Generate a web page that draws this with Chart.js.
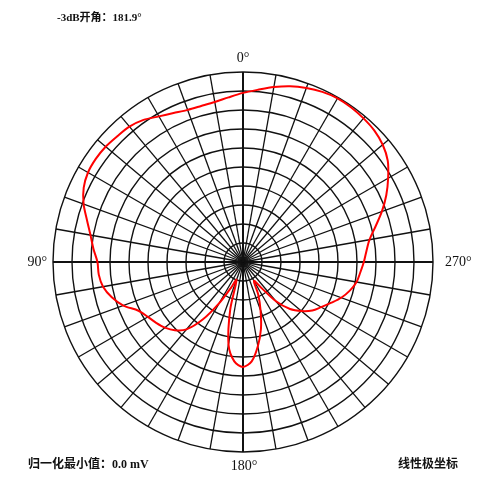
<!DOCTYPE html>
<html>
<head>
<meta charset="utf-8">
<script src="https://cdn.jsdelivr.net/npm/chart.js@4.4.0/dist/chart.umd.min.js"></script>
<style>
  html, body { margin: 0; padding: 0; background: #ffffff; }
  #wrap { position: relative; width: 500px; height: 481px; }
  canvas { display: block; }
</style>
</head>
<body>
<div id="wrap"><canvas id="c" width="500" height="481"></canvas></div>
<script>
// Angles (degrees, counter-clockwise from top: 0° top, 90° left, 180° bottom, 270° right)
const angles = [0,5,10,15,20,25,30,35,40,45,50,55,60,65,70,75,80,85,
                90,95,100,105,110,115,120,125,130,135,140,145,150,155,160,165,170,175,
                180,185,190,195,200,205,210,215,220,225,230,235,240,245,250,255,260,265,
                270,275,280,285,290,295,300,305,310,315,320,325,330,335,340,345,350,355];
// Normalized amplitude (0 .. 1)
const amplitude = [0.890,0.870,0.855,0.850,0.852,0.865,0.885,0.913,0.930,0.936,0.944,0.946,0.942,0.925,0.893,0.850,0.815,0.790,
                   0.766,0.762,0.748,0.715,0.670,0.607,0.578,0.558,0.537,0.508,0.463,0.370,0.250,0.150,0.100,0.260,0.440,0.525,
                   0.552,0.525,0.450,0.365,0.270,0.190,0.115,0.160,0.270,0.350,0.402,0.445,0.475,0.510,0.550,0.582,0.607,0.620,
                   0.636,0.652,0.676,0.722,0.778,0.832,0.882,0.930,0.960,0.978,0.987,0.993,0.995,0.988,0.975,0.958,0.935,0.910];
// Axis labels shown at the four main directions
const axisLabels = { 0: '0°', 90: '90°', 180: '180°', 270: '270°' };
// Annotation texts
const topNote = '-3dB开角：181.9°';
const bottomLeftNote = '归一化最小值：0.0 mV';
const bottomRightNote = '线性极坐标';

// Radar charts run clockwise from the top; our angles run counter-clockwise.
const order = angles.map((a, i) => (angles.length - i) % angles.length);
const labels = order.map(i => angles[i]);
const values = order.map(i => amplitude[i]);

const textPlugin = {
  id: 'texts',
  afterDraw(chart) {
    const ctx = chart.ctx;
    const s = chart.scales.r;
    const cx = s.xCenter, cy = s.yCenter, R = s.drawingArea;
    ctx.save();
    ctx.fillStyle = '#111';
    ctx.textBaseline = 'middle';
    ctx.font = '14px "Liberation Serif", "DejaVu Serif", serif';
    ctx.textAlign = 'center';
    ctx.fillText(axisLabels[0], cx, cy - R - 14);
    ctx.fillText(axisLabels[180], cx + 1, cy + R + 14);
    ctx.textAlign = 'right';
    ctx.fillText(axisLabels[90], cx - R - 6, cy);
    ctx.textAlign = 'left';
    ctx.fillText(axisLabels[270], cx + R + 12, cy);
    ctx.font = 'bold 11px "Liberation Serif", "Noto Sans CJK SC", serif';
    ctx.textAlign = 'left';
    ctx.fillText(topNote, 57, 18);
    ctx.font = 'bold 12px "Liberation Serif", "Noto Sans CJK SC", serif';
    ctx.fillText(bottomLeftNote, 28, 465);
    ctx.fillText(bottomRightNote, 398, 465);
    ctx.restore();
  }
};

new Chart(document.getElementById('c'), {
  type: 'radar',
  data: {
    labels: labels,
    datasets: [{
      data: values,
      borderColor: '#ff0000',
      borderWidth: 2,
      pointRadius: 0,
      pointHoverRadius: 0,
      fill: false,
      tension: 0.3
    }]
  },
  options: {
    responsive: false,
    devicePixelRatio: 1,
    animation: false,
    layout: { padding: { left: 53, right: 67, top: 72, bottom: 29 } },
    plugins: { legend: { display: false }, tooltip: { enabled: false } },
    scales: {
      r: {
        min: 0,
        max: 1,
        startAngle: 0,
        ticks: { display: false, stepSize: 0.1 },
        grid: { circular: true, color: '#111', lineWidth: 1.4 },
        angleLines: {
          display: true,
          color: '#111',
          lineWidth: (ctx) => (ctx.index % 18 === 0 ? 2 : (ctx.index % 2 === 0 ? 1.3 : 0))
        },
        pointLabels: { display: false }
      }
    }
  },
  plugins: [textPlugin]
});
</script>
</body>
</html>
